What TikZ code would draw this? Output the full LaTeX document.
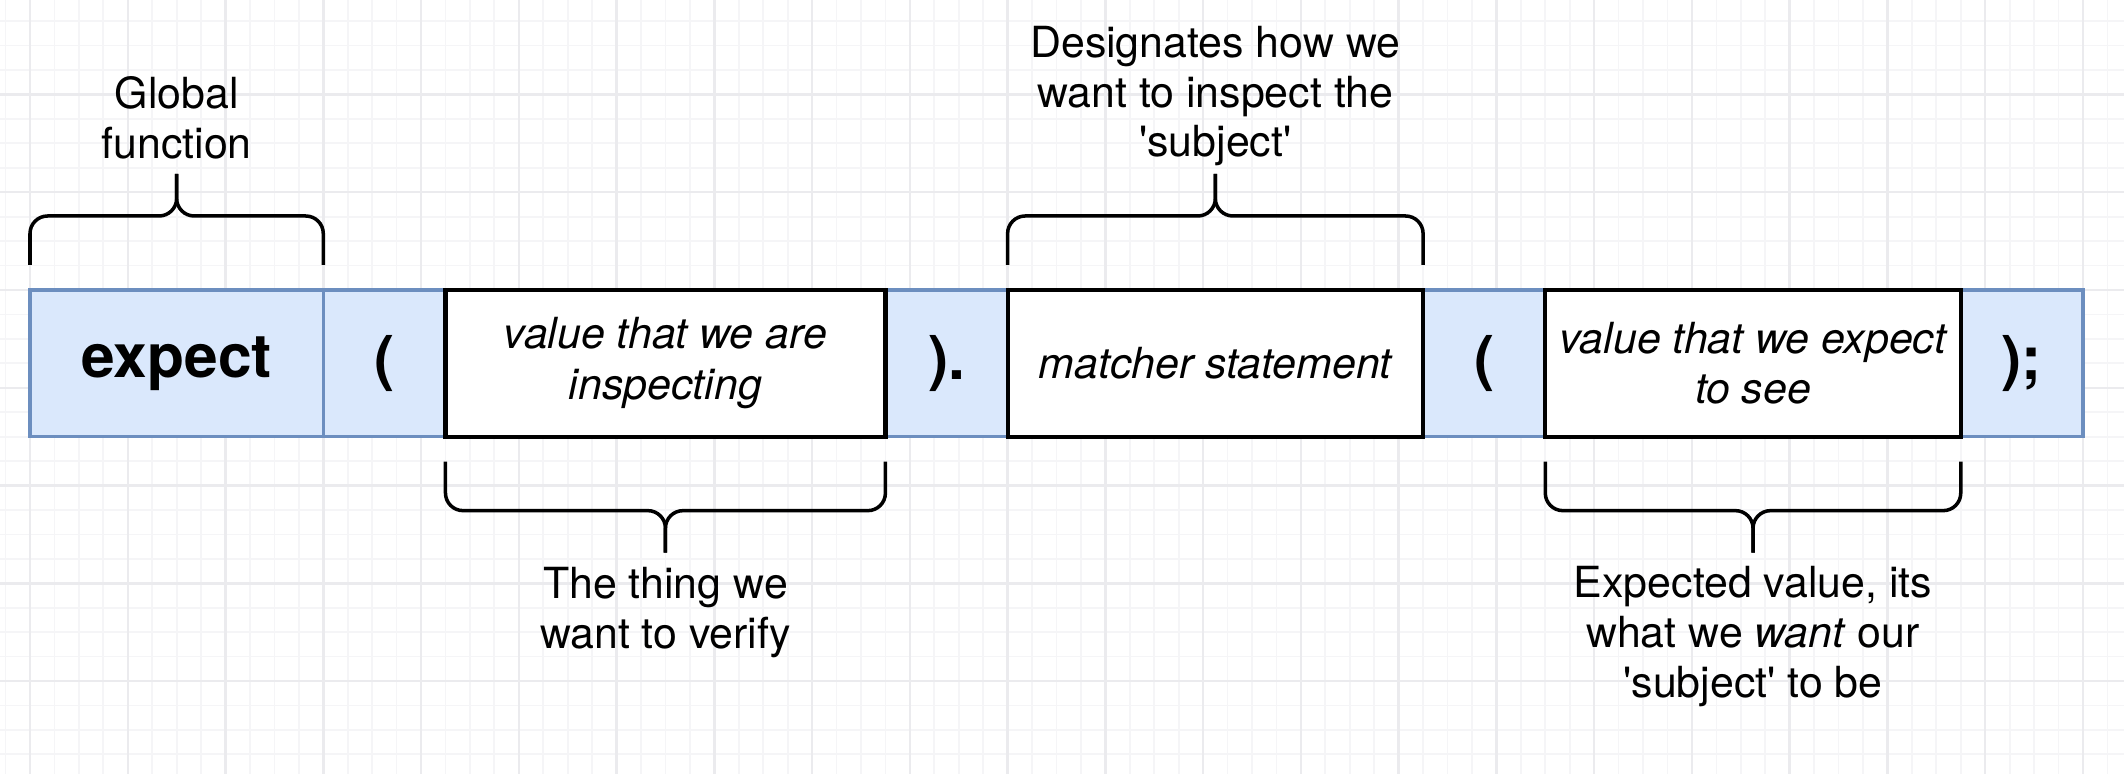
\documentclass[tikz,border=0pt]{standalone}
\usepackage{fontspec}
\setmainfont{TeX Gyre Heros}[Ligatures=TeXOff]
\usetikzlibrary{positioning,calc}

\definecolor{cellfill}{HTML}{DAE8FC}
\definecolor{celldraw}{HTML}{6C8EBF}
\definecolor{gridmajor}{HTML}{EBEBEE}
\definecolor{gridminor}{HTML}{F5F5F7}

\begin{document}
\begin{tikzpicture}[x=0.9776cm, y=0.9776cm,
    bluecell/.style={draw=celldraw, fill=cellfill, line width=0.9pt, inner sep=0pt, outer sep=0pt,
      minimum height=1.5*\dx cm, font=\fontsize{17.2}{20}\selectfont\bfseries},
    textcell/.style={draw=black, fill=white, line width=1.2pt, inner sep=0pt, outer sep=0pt,
      minimum height=1.5*\dx cm, align=center, font=\fontsize{12.2}{14.4}\selectfont\itshape},
    curly/.style={draw=black, line width=1pt, rounded corners=5pt},
    note/.style={align=center, inner sep=0pt, font=\fontsize{12.2}{14.2}\selectfont}]
\def\dx{0.9776}
\def\xa{0}
\def\xb{3}
\def\xc{4.25}
\def\xd{8.75}
\def\xe{10}
\def\xf{14.25}
\def\xg{15.5}
\def\xh{19.75}
\def\xj{21}

\def\yend{0.256}
\def\ybar{0.757}
\def\ytip{1.187}

\useasboundingbox (-0.3069,-4.9509) rectangle (21.4199,2.9665);
\fill[white] (-0.3069,-4.9509) rectangle (21.4199,2.9665);
\draw[gridminor, line width=0.5pt, step=0.25] (-0.3069,-4.9509) grid (21.4199,2.9665);
\draw[gridmajor, line width=0.7pt, step=1] (-0.3069,-4.9509) grid (21.4199,2.9665);

\node[bluecell, minimum width=(\xb-\xa)*\dx cm] (expect) at ({(\xa+\xb)/2}, -0.75) {expect};
\node[bluecell, minimum width=(\xc-\xb)*\dx cm] (open) at ({(\xb+\xc)/2}, -0.75) {(};
\node[bluecell, minimum width=(\xe-\xd)*\dx cm] (close) at ({(\xd+\xe)/2}, -0.75) {).};
\node[bluecell, minimum width=(\xg-\xf)*\dx cm] (reopen) at ({(\xf+\xg)/2}, -0.75) {(};
\node[bluecell, minimum width=(\xj-\xh)*\dx cm] (semi) at ({(\xh+\xj)/2}, -0.75) {);};

\node[textcell, minimum width=(\xd-\xc)*\dx cm] (actual) at ({(\xc+\xd)/2}, -0.75) {value that we are\\inspecting};
\node[textcell, minimum width=(\xf-\xe)*\dx cm] (matcher) at ({(\xe+\xf)/2}, -0.75) {matcher statement};
\node[textcell, minimum width=(\xh-\xg)*\dx cm] (expected) at ({(\xg+\xh)/2}, -0.75) {value that we expect\\to see};

\draw[curly] ($(expect.north west)+(0,\yend)$) |- ($(expect.north)+(0,\ybar)$) -- ($(expect.north)+(0,\ytip)$);
\draw[curly] ($(expect.north east)+(0,\yend)$) |- ($(expect.north)+(0,\ybar)$) -- ($(expect.north)+(0,\ytip)$);
\draw[curly] ($(matcher.north west)+(0,\yend)$) |- ($(matcher.north)+(0,\ybar)$) -- ($(matcher.north)+(0,\ytip)$);
\draw[curly] ($(matcher.north east)+(0,\yend)$) |- ($(matcher.north)+(0,\ybar)$) -- ($(matcher.north)+(0,\ytip)$);
\draw[curly] ($(actual.south west)+(0,-\yend)$) |- ($(actual.south)+(0,-\ybar)$) -- ($(actual.south)+(0,-\ytip)$);
\draw[curly] ($(actual.south east)+(0,-\yend)$) |- ($(actual.south)+(0,-\ybar)$) -- ($(actual.south)+(0,-\ytip)$);
\draw[curly] ($(expected.south west)+(0,-\yend)$) |- ($(expected.south)+(0,-\ybar)$) -- ($(expected.south)+(0,-\ytip)$);
\draw[curly] ($(expected.south east)+(0,-\yend)$) |- ($(expected.south)+(0,-\ybar)$) -- ($(expected.south)+(0,-\ytip)$);

\node[note, anchor=south] (global) at ($(expect.north)+(0,1.33)$) {Global\\function};
\node[note, anchor=south] (designates) at ($(matcher.north)+(0,1.258)$) {Designates how we\\want to inspect the\\'subject'};
\node[note, anchor=north] (thing) at ($(actual.south)+(0,-1.333)$) {The thing we\\want to verify};
\node[note, anchor=north] (wanted) at ($(expected.south)+(0,-1.323)$) {Expected value, its\\what we \textit{want} our\\'subject' to be};

\end{tikzpicture}
\end{document}
